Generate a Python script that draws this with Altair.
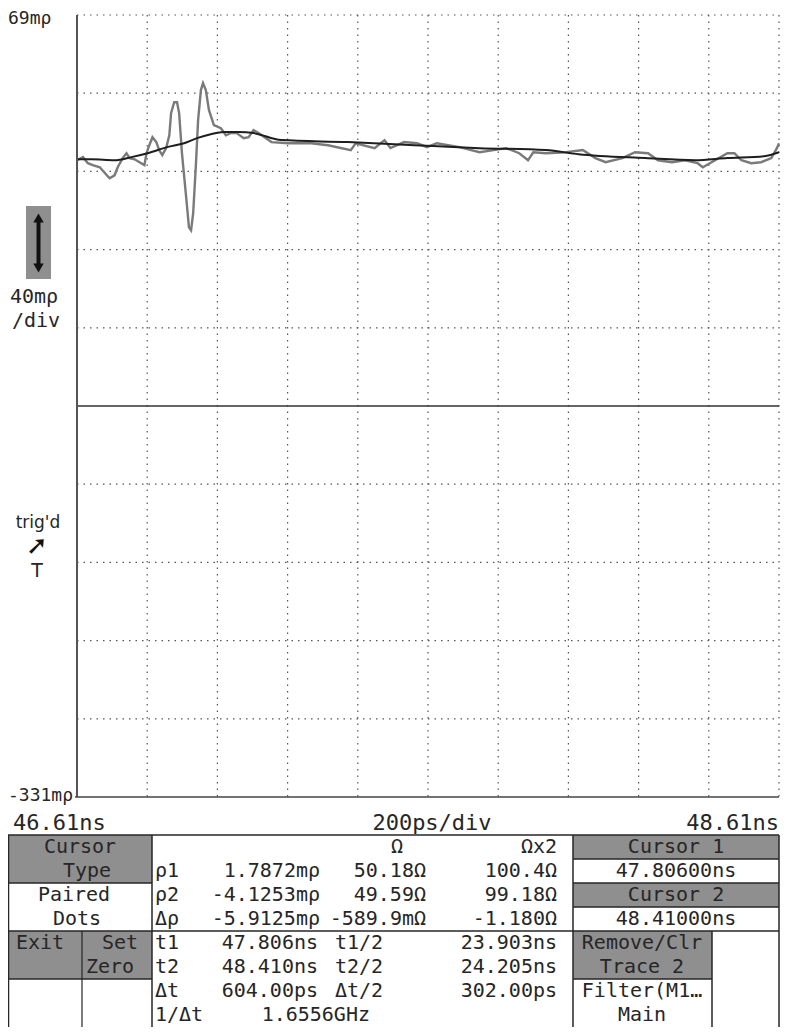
import altair as alt
import pandas as pd

# ---------------- data ----------------
raw_t = [46.610, 46.627, 46.641, 46.655, 46.675, 46.695, 46.703, 46.717, 46.726, 46.740,
         46.751, 46.760, 46.774, 46.788, 46.802, 46.808, 46.816, 46.825, 46.836, 46.844,
         46.853, 46.864, 46.873, 46.878, 46.887, 46.895, 46.901, 46.909, 46.921, 46.929,
         46.935, 46.941, 46.949, 46.955, 46.963, 46.969, 46.977, 46.986, 47.000, 47.020,
         47.034, 47.048, 47.065, 47.085, 47.099, 47.113, 47.127, 47.164, 47.212, 47.277,
         47.325, 47.390, 47.404, 47.458, 47.486, 47.503, 47.542, 47.579, 47.607, 47.635,
         47.700, 47.757, 47.797, 47.833, 47.870, 47.895, 47.910, 47.946, 48.003, 48.051,
         48.087, 48.116, 48.164, 48.200, 48.237, 48.265, 48.305, 48.342, 48.378, 48.393,
         48.418, 48.463, 48.483, 48.503, 48.531, 48.559, 48.588, 48.604, 48.610]
raw_v = [-5.3, -3.7, -6.8, -7.8, -8.9, -13.0, -14.5, -13.0, -8.9, -4.2,
         -1.7, -4.2, -4.8, -6.3, -7.8, -1.7, 2.4, 6.5, 4.0, -0.1,
         -2.7, 0.9, 7.5, 18.8, 24.4, 24.4, 18.8, -1.7, -24.2, -39.6,
         -41.1, -32.4, -6.8, 15.2, 30.6, 34.2, 30.6, 20.3, 12.7, 11.1,
         7.5, 8.6, 8.6, 6.0, 6.5, 10.1, 8.6, 4.0, 3.4, 3.4,
         2.4, -0.1, 3.4, 0.9, 5.0, 0.9, 4.0, 3.4, 1.4, 3.4,
         1.4, -1.2, -0.1, 0.9, -1.7, -5.3, -1.2, -1.7, -1.2, -0.1,
         -4.2, -6.3, -4.2, -1.2, -1.7, -5.3, -6.3, -5.3, -6.8, -8.9,
         -6.3, -1.7, -1.7, -5.3, -6.8, -6.3, -4.2, 0.9, 3.4]

avg_t = [46.610, 46.652, 46.717, 46.765, 46.811, 46.867, 46.915, 46.952, 46.991, 47.028,
         47.070, 47.113, 47.192, 47.381, 47.571, 47.757, 47.946, 48.039, 48.229, 48.370,
         48.463, 48.568, 48.610]
avg_v = [-4.8, -4.8, -5.3, -3.7, -1.7, 1.4, 3.4, 6.0, 8.0, 9.1,
         9.1, 8.6, 5.0, 4.0, 2.4, 0.9, -0.1, -2.2, -4.2, -5.3,
         -4.2, -3.2, -1.2]

t_domain = [46.61, 48.61]
v_domain = [-331, 69]
grid_t = [46.81, 47.01, 47.21, 47.41, 47.61, 47.81, 48.01, 48.21, 48.41, 48.61]
grid_v = [69, 29, -11, -51, -91, -171, -211, -251, -291]
center_v = [-131]

top_label = "69mρ"
bottom_label = "-331mρ"
scale_labels = ["40mρ", "/div"]
trig_labels = ["trig'd", "T"]
time_labels = ["46.61ns", "200ps/div", "48.61ns"]

menu_left = ["Cursor", "Type", "Paired", "Dots", "Exit", "Set", "Zero"]
col_heads = ["Ω", "Ωx2"]
rho_labels = ["ρ1", "ρ2", "Δρ"]
rho_values = ["1.7872mρ", "-4.1253mρ", "-5.9125mρ"]
ohm_values = ["50.18Ω", "49.59Ω", "-589.9mΩ"]
ohm2_values = ["100.4Ω", "99.18Ω", "-1.180Ω"]
t_labels = ["t1", "t2", "Δt"]
t_values = ["47.806ns", "48.410ns", "604.00ps"]
half_labels = ["t1/2", "t2/2", "Δt/2"]
half_values = ["23.903ns", "24.205ns", "302.00ps"]
freq_label = "1/Δt"
freq_value = "1.6556GHz"
cursor_panel = ["Cursor 1", "47.80600ns", "Cursor 2", "48.41000ns"]
menu_right = ["Remove/Clr", "Trace 2", "Filter(M1…", "Main"]

# ---------------- layout ----------------
OX, OY = 77, 15          # page position of plot origin
W, H = 702, 782
RIGHT = 779              # right edge of the drawable page
INK = "#262626"
GRAY = "#8f8f8f"
MONO = "DejaVu Sans Mono"
FS = 20

xs = alt.Scale(domain=t_domain, nice=False, zero=False)
ys = alt.Scale(domain=v_domain, nice=False, zero=False)

def px(x):
    return x - OX

def py(y):
    return y - OY

one = alt.Data(values=[{}])
back, front = [], []

def rect(x1, y1, x2, y2, fill=GRAY):
    back.append(alt.Chart(one).mark_rect(fill=fill).encode(
        x=alt.value(px(x1)), x2=alt.value(px(x2)),
        y=alt.value(py(y1)), y2=alt.value(py(y2))))

def line(x1, y1, x2, y2, color=INK, width=1.5):
    front.append(alt.Chart(one).mark_rule(color=color, strokeWidth=width).encode(
        x=alt.value(px(x1)), x2=alt.value(px(x2)),
        y=alt.value(py(y1)), y2=alt.value(py(y2))))

def text(s, x, y, align="left", size=FS, font=MONO, color=INK, weight="normal"):
    front.append(alt.Chart(one).mark_text(
        text=s, align=align, baseline="middle", fontSize=size, font=font,
        color=color, fontWeight=weight).encode(x=alt.value(px(x)), y=alt.value(py(y))))

# table rows
T0, RH = 835, 24
row_top = [T0 + RH * r for r in range(9)]
row_mid = [T0 + RH * r + RH / 2 for r in range(8)]

# gray boxes
rect(8, row_top[0], 152, row_top[2])
rect(8, row_top[4], 152, row_top[6])
rect(573, row_top[0], RIGHT, row_top[1])
rect(573, row_top[2], RIGHT, row_top[3])
rect(573, row_top[4], 712, row_top[6])
rect(26, 206, 51, 279)   # vertical-scale icon

# grid
grid_x = alt.Chart(pd.DataFrame({"t": grid_t})).mark_rule(
    color="#555555", strokeWidth=1.2, strokeDash=[1.5, 5]).encode(
    x=alt.X("t:Q", scale=xs, axis=None), y=alt.value(0), y2=alt.value(H))
grid_y = alt.Chart(pd.DataFrame({"v": grid_v})).mark_rule(
    color="#555555", strokeWidth=1.2, strokeDash=[1.5, 5]).encode(
    y=alt.Y("v:Q", scale=ys, axis=None), x=alt.value(0), x2=alt.value(W))
center = alt.Chart(pd.DataFrame({"v": center_v})).mark_rule(
    color="#333333", strokeWidth=1.5).encode(
    y=alt.Y("v:Q", scale=ys, axis=None), x=alt.value(0), x2=alt.value(W))

raw = alt.Chart(pd.DataFrame({"t": raw_t, "v": raw_v})).mark_line(
    color="#7a7a7a", strokeWidth=2.4).encode(
    x=alt.X("t:Q", scale=xs, axis=None), y=alt.Y("v:Q", scale=ys, axis=None), order="t:Q")
avg = alt.Chart(pd.DataFrame({"t": avg_t, "v": avg_v})).mark_line(
    color="#1e1e1e", strokeWidth=2, interpolate="monotone").encode(
    x=alt.X("t:Q", scale=xs, axis=None), y=alt.Y("v:Q", scale=ys, axis=None), order="t:Q")

# axis lines
line(77, 15, 77, 797, color="#555555", width=2)
line(75, 797, OX + W, 797, color="#444444", width=1.5)

# icon arrow
line(38.5, 220, 38.5, 266, color="#111111", width=4)
front.append(alt.Chart(one).mark_point(shape="triangle-up", filled=True, color="#111111",
                                       size=110, opacity=1).encode(
    x=alt.value(px(38.5)), y=alt.value(py(218))))
front.append(alt.Chart(one).mark_point(shape="triangle-down", filled=True, color="#111111",
                                       size=110, opacity=1).encode(
    x=alt.value(px(38.5)), y=alt.value(py(268))))

# table lines
line(8, row_top[0], RIGHT, row_top[0])
line(8, row_top[4], RIGHT, row_top[4])
line(152, row_top[0], 152, row_top[8])
line(573, row_top[0], 573, row_top[8])
line(82, row_top[4], 82, row_top[8], width=1.2)
line(712, row_top[4], 712, row_top[8])
line(8, row_top[2], 152, row_top[2])
line(8, row_top[6], 152, row_top[6])
for r in (1, 2, 3):
    line(573, row_top[r], RIGHT, row_top[r])
line(573, row_top[6], 712, row_top[6])
line(8.5, row_top[0], 8.5, row_top[8])
line(RIGHT, row_top[0], RIGHT, row_top[8])

# side labels
text(top_label, 8, 19, size=18)
text(bottom_label, 8, 796, size=18)
text(scale_labels[0], 10, 297, size=20)
text(scale_labels[1], 12, 321, size=20)
text(trig_labels[0], 38, 523, align="center", size=17, font="DejaVu Sans")
text("➚", 37, 546, align="center", size=26, font="DejaVu Sans", color="#111111")
text(trig_labels[1], 37, 571, align="center", size=19, font="DejaVu Sans")

text(time_labels[0], 13, 823, size=22)
text(time_labels[1], 432, 823, align="center", size=22)
text(time_labels[2], RIGHT, 823, align="right", size=22)

# left menu
text(menu_left[0], 80, row_mid[0], align="center")
text(menu_left[1], 87, row_mid[1], align="center")
text(menu_left[2], 74, row_mid[2], align="center")
text(menu_left[3], 77, row_mid[3], align="center")
text(menu_left[4], 40, row_mid[4], align="center")
text(menu_left[5], 120, row_mid[4], align="center")
text(menu_left[6], 110, row_mid[5], align="center")

# middle: reflection block
text(col_heads[0], 397, row_mid[0], align="center")
text(col_heads[1], 557, row_mid[0], align="right")
for i in range(3):
    r = row_mid[i + 1]
    text(rho_labels[i], 155, r)
    text(rho_values[i], 320, r, align="right")
    text(ohm_values[i], 426, r, align="right")
    text(ohm2_values[i], 557, r, align="right")

# middle: time block
for i in range(3):
    r = row_mid[i + 4]
    text(t_labels[i], 155, r)
    text(t_values[i], 318, r, align="right")
    text(half_labels[i], 335, r)
    text(half_values[i], 557, r, align="right")
text(freq_label, 155, row_mid[7])
text(freq_value, 370, row_mid[7], align="right")

# right panel
for i, s in enumerate(cursor_panel):
    text(s, 676, row_mid[i], align="center")
for i, s in enumerate(menu_right):
    text(s, 642, row_mid[4 + i], align="center")

chart = alt.layer(*back, grid_x, grid_y, center, raw, avg, *front).properties(
    width=W, height=H,
    padding={"left": 69, "top": 7, "right": 1, "bottom": 230},
    autosize=alt.AutoSizeParams(type="none"),
).configure(background="#ffffff").configure_view(stroke=None)

chart.save("out.html", embed_options={"renderer": "svg", "actions": False})
